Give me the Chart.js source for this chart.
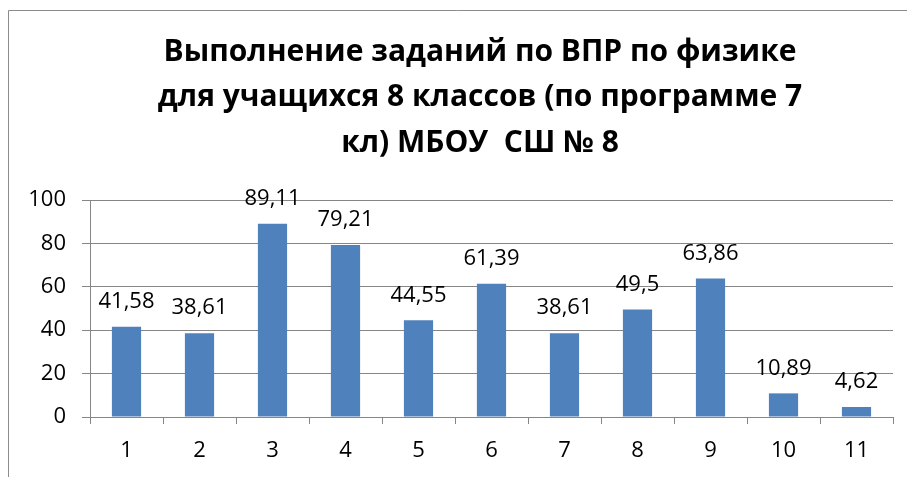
<!DOCTYPE html>
<html>
<head>
<meta charset="utf-8">
<script src="https://cdn.jsdelivr.net/npm/chart.js@4"></script>
<style>
  html, body { margin: 0; padding: 0; background: #fff; }
  #wrap { width: 907px; height: 477px; }
</style>
</head>
<body>
<div id="wrap"><canvas id="myChart" width="907" height="477"></canvas></div>
<script>
const titleLines = [
    'Выполнение заданий по ВПР по физике',
    'для учащихся 8 классов (по программе 7',
    'кл) МБОУ  СШ № 8'
];
const tasks = ['1', '2', '3', '4', '5', '6', '7', '8', '9', '10', '11'];
const percents = [41.58, 38.61, 89.11, 79.21, 44.55, 61.39, 38.61, 49.5, 63.86, 10.89, 4.62];
const yTicks = [0, 20, 40, 60, 80, 100];

const ctx = document.getElementById('myChart').getContext('2d');
const fontFamily = "'Open Sans', 'Noto Sans', sans-serif";
const gridColor = '#868686';

// white background + the cropped chart frame
const framePlugin = {
    id: 'frame',
    beforeDraw(chart) {
        const c = chart.ctx;
        c.save();
        c.fillStyle = '#fff';
        c.fillRect(0, 0, chart.width, chart.height);
        c.strokeStyle = '#8c8c8c';
        c.lineWidth = 1;
        c.beginPath();
        c.moveTo(8.5, chart.height);
        c.lineTo(8.5, 10.5);
        c.lineTo(chart.width, 10.5);
        c.stroke();
        c.restore();
    }
};

const titlePlugin = {
    id: 'bigTitle',
    afterDraw(chart) {
        const c = chart.ctx;
        c.save();
        c.fillStyle = '#000';
        c.font = 'bold 30px ' + fontFamily;
        c.textAlign = 'center';
        c.textBaseline = 'middle';
        titleLines.forEach((line, i) => {
            c.fillText(line, 480, 52 + i * 45.5);
        });
        c.restore();
    }
};

const valueLabels = {
    id: 'valueLabels',
    afterDatasetsDraw(chart) {
        const c = chart.ctx;
        const meta = chart.getDatasetMeta(0);
        c.save();
        c.fillStyle = '#000';
        c.font = '22px ' + fontFamily;
        c.textAlign = 'center';
        c.textBaseline = 'middle';
        meta.data.forEach((bar, i) => {
            const txt = String(percents[i]).replace('.', ',');
            c.fillText(txt, bar.x, bar.y - 25);
        });
        c.restore();
    }
};

const chart = new Chart(ctx, {
    type: 'bar',
    data: {
        labels: tasks,
        datasets: [{
            data: percents,
            backgroundColor: '#4F81BD',
            borderWidth: 0,
            barPercentage: 0.4,
            categoryPercentage: 1
        }]
    },
    options: {
        responsive: false,
        animation: false,
        layout: { padding: { top: 200, right: 14, left: 0, bottom: 0 } },
        plugins: {
            legend: { display: false },
            title: { display: false },
            tooltip: { enabled: false }
        },
        scales: {
            x: {
                grid: { drawOnChartArea: false, drawTicks: true, tickLength: 7, color: gridColor },
                border: { color: gridColor },
                ticks: { color: '#000', font: { family: fontFamily, size: 22 }, padding: 14 },
                afterFit(scale) { scale.height = 60; }
            },
            y: {
                min: 0,
                max: 100,
                afterBuildTicks(scale) { scale.ticks = yTicks.map(v => ({ value: v })); },
                grid: { color: gridColor, tickLength: 8 },
                border: { color: gridColor },
                ticks: { color: '#000', font: { family: fontFamily, size: 22 }, padding: 16 },
                afterFit(scale) { scale.width = 90; }
            }
        }
    },
    plugins: [framePlugin, titlePlugin, valueLabels]
});
</script>
</body>
</html>
